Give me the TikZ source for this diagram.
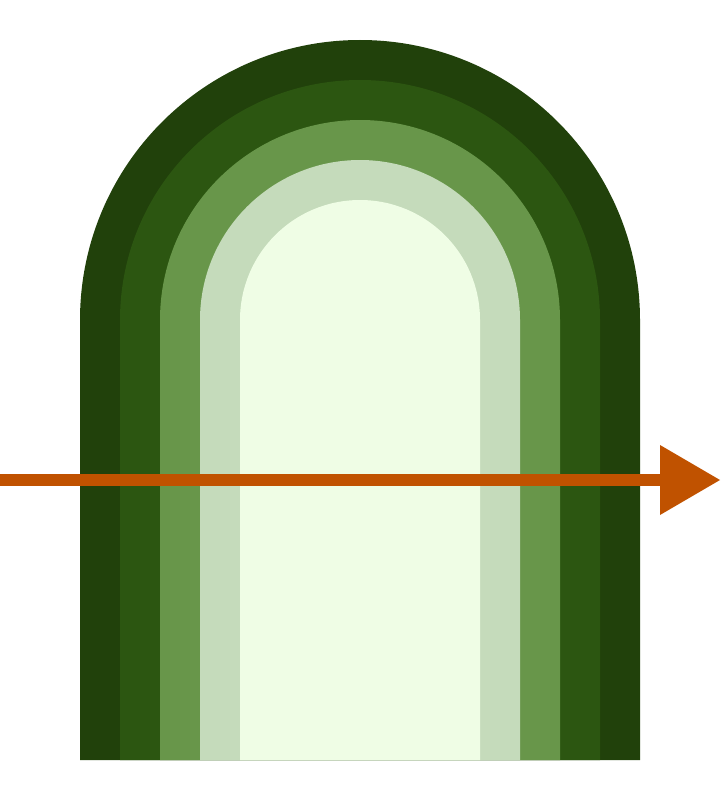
\documentclass[tikz,border=0pt]{standalone}
\definecolor{cA}{HTML}{21410B}
\definecolor{cB}{HTML}{2C5611}
\definecolor{cC}{HTML}{68964A}
\definecolor{cD}{HTML}{C5DBBB}
\definecolor{cE}{HTML}{EFFDE5}
\definecolor{arr}{HTML}{C05200}
\begin{document}
\begin{tikzpicture}[x=1pt,y=-1pt]
\useasboundingbox (0,0) rectangle (720,800);
\foreach \r/\c in {280/cA,240/cB,200/cC,160/cD,120/cE}{
  \fill[\c] (360-\r,760) -- (360-\r,320) arc[start angle=180,end angle=360,radius=\r] -- (360+\r,760) -- cycle;
}
\fill[arr] (0,474) rectangle (661,486);
\fill[arr] (660,445) -- (720,480) -- (660,515) -- cycle;
\end{tikzpicture}
\end{document}
